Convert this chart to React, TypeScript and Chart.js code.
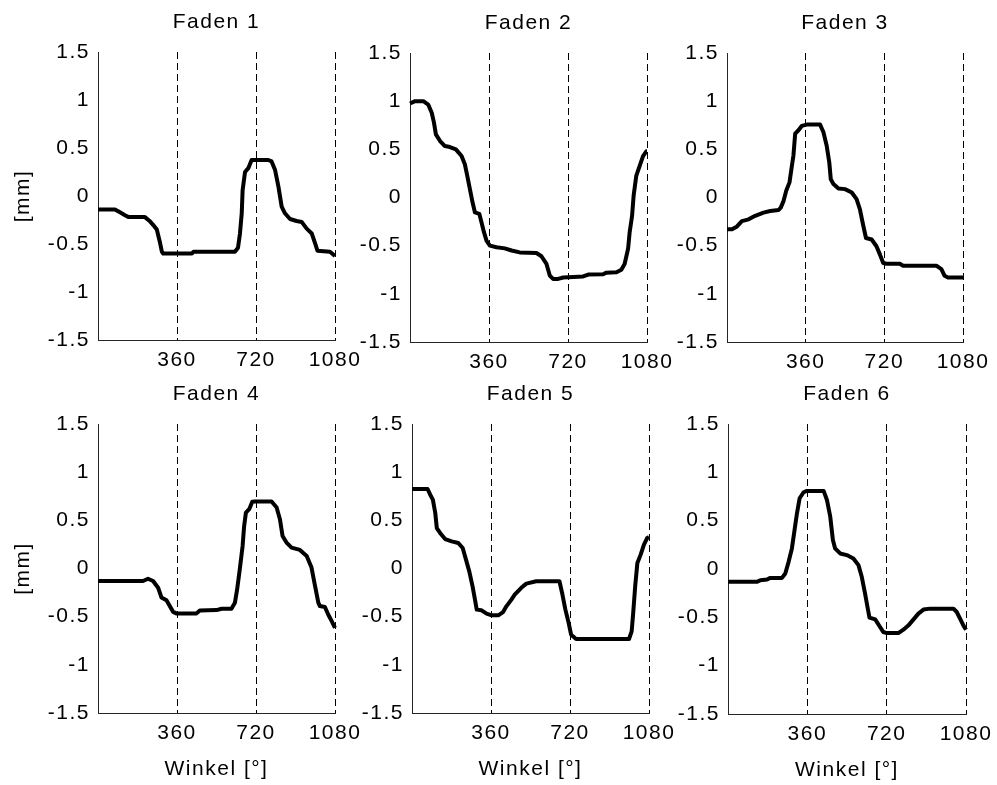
import React, { useEffect, useRef } from 'react';
import { Chart, registerables } from 'chart.js';

Chart.register(...registerables);

// ---------- data ----------
const guideAngles = [360, 720, 1080];
const yTickValues = [-1.5, -1, -0.5, 0, 0.5, 1, 1.5];
const xAxisTitle = 'Winkel [°]';
const yAxisTitle = '[mm]';

const faden1X = [0, 77, 100, 123, 140, 214, 235, 251, 268, 283, 291, 297, 428, 435, 624, 638, 647, 655, 659, 670, 685, 700, 776, 791, 807, 822, 837, 852, 875, 905, 928, 951, 974, 989, 1000, 1057, 1080];
const faden1Y = [-0.14, -0.14, -0.17, -0.2, -0.22, -0.22, -0.26, -0.3, -0.35, -0.49, -0.58, -0.6, -0.6, -0.58, -0.58, -0.54, -0.39, -0.18, 0.06, 0.25, 0.29, 0.375, 0.375, 0.36, 0.27, 0.1, -0.11, -0.18, -0.24, -0.26, -0.27, -0.34, -0.39, -0.49, -0.57, -0.58, -0.625];

const faden2X = [0, 23, 61, 83, 99, 109, 118, 137, 159, 182, 209, 235, 250, 261, 273, 285, 296, 316, 326, 337, 349, 364, 394, 432, 463, 500, 576, 599, 622, 637, 652, 675, 698, 789, 812, 880, 895, 941, 963, 978, 994, 1001, 1012, 1019, 1031, 1047, 1062, 1077, 1080];
const faden2Y = [0.976, 1.0, 1.0, 0.965, 0.88, 0.78, 0.655, 0.586, 0.534, 0.524, 0.5, 0.43, 0.345, 0.224, 0.086, -0.05, -0.155, -0.17, -0.26, -0.36, -0.45, -0.5, -0.517, -0.528, -0.55, -0.57, -0.576, -0.61, -0.69, -0.81, -0.845, -0.845, -0.83, -0.82, -0.8, -0.797, -0.78, -0.776, -0.75, -0.69, -0.53, -0.36, -0.19, 0.017, 0.224, 0.33, 0.43, 0.48, 0.48];

const faden3X = [0, 23, 46, 68, 99, 129, 167, 198, 236, 246, 259, 271, 286, 297, 304, 312, 327, 342, 365, 426, 441, 456, 468, 475, 487, 510, 540, 571, 593, 608, 624, 636, 662, 684, 700, 715, 730, 791, 806, 958, 981, 996, 1011, 1080];
const faden3Y = [-0.33, -0.33, -0.3, -0.245, -0.227, -0.19, -0.157, -0.14, -0.13, -0.105, -0.035, 0.07, 0.157, 0.33, 0.436, 0.663, 0.698, 0.743, 0.757, 0.757, 0.68, 0.54, 0.366, 0.19, 0.14, 0.094, 0.087, 0.052, -0.017, -0.12, -0.296, -0.42, -0.436, -0.506, -0.593, -0.68, -0.687, -0.687, -0.708, -0.708, -0.743, -0.813, -0.83, -0.83];

const faden4X = [0, 205, 228, 251, 274, 289, 312, 327, 342, 357, 449, 464, 540, 563, 608, 624, 634, 646, 659, 666, 674, 689, 703, 715, 791, 814, 829, 841, 859, 882, 920, 951, 973, 989, 1004, 1011, 1034, 1049, 1065, 1080];
const faden4Y = [-0.13, -0.13, -0.106, -0.13, -0.2, -0.3, -0.33, -0.39, -0.45, -0.466, -0.466, -0.435, -0.432, -0.418, -0.418, -0.355, -0.217, -0.01, 0.234, 0.442, 0.58, 0.616, 0.692, 0.695, 0.695, 0.633, 0.512, 0.338, 0.269, 0.217, 0.193, 0.13, 0.01, -0.18, -0.355, -0.39, -0.4, -0.477, -0.546, -0.616];

const faden5X = [0, 71, 83, 95, 106, 113, 128, 151, 181, 211, 231, 246, 261, 276, 287, 295, 317, 340, 363, 393, 415, 430, 453, 468, 498, 521, 566, 672, 684, 699, 714, 725, 748, 989, 1001, 1008, 1017, 1027, 1042, 1057, 1072, 1080];
const faden5Y = [0.825, 0.825, 0.766, 0.715, 0.576, 0.42, 0.369, 0.306, 0.282, 0.265, 0.213, 0.092, -0.03, -0.185, -0.323, -0.427, -0.434, -0.469, -0.486, -0.486, -0.452, -0.393, -0.323, -0.272, -0.2, -0.157, -0.133, -0.133, -0.254, -0.427, -0.566, -0.687, -0.732, -0.732, -0.652, -0.462, -0.185, 0.057, 0.144, 0.247, 0.317, 0.327];

const faden6X = [0, 131, 147, 177, 192, 245, 260, 275, 290, 302, 313, 325, 343, 358, 434, 449, 464, 476, 486, 509, 539, 569, 592, 607, 622, 633, 642, 668, 690, 705, 721, 773, 796, 819, 841, 864, 887, 917, 1023, 1038, 1053, 1068, 1080];
const faden6Y = [-0.133, -0.133, -0.116, -0.109, -0.092, -0.092, -0.047, 0.074, 0.213, 0.403, 0.576, 0.732, 0.794, 0.808, 0.808, 0.714, 0.541, 0.299, 0.213, 0.161, 0.144, 0.109, 0.04, -0.081, -0.254, -0.393, -0.503, -0.521, -0.6, -0.652, -0.663, -0.663, -0.628, -0.583, -0.524, -0.462, -0.42, -0.41, -0.41, -0.445, -0.513, -0.583, -0.628];

// ---------- layout (plot-area boxes in page pixels) ----------
const panels = [
  { title: 'Faden 1', xs: faden1X, ys: faden1Y, L: 98, T: 52, R: 335, B: 340, yTitle: true, xTitle: false },
  { title: 'Faden 2', xs: faden2X, ys: faden2Y, L: 410, T: 53, R: 647, B: 342, yTitle: false, xTitle: false },
  { title: 'Faden 3', xs: faden3X, ys: faden3Y, L: 727, T: 53, R: 963, B: 342, yTitle: false, xTitle: false },
  { title: 'Faden 4', xs: faden4X, ys: faden4Y, L: 98, T: 424, R: 335, B: 713, yTitle: true, xTitle: true },
  { title: 'Faden 5', xs: faden5X, ys: faden5Y, L: 412, T: 424, R: 649, B: 713, yTitle: false, xTitle: true },
  { title: 'Faden 6', xs: faden6X, ys: faden6Y, L: 728, T: 424, R: 966, B: 714, yTitle: false, xTitle: true },
];

const FONT = '"Liberation Sans", Arial, Helvetica, sans-serif';
const FSIZE = 21;
const Y_W = 98;
const TITLE_H = 52;
const RIGHT_PAD = 40;

const spacingPlugin = {
  id: 'letterSpacing',
  beforeUpdate(chart: any) {
    (chart.ctx as any).letterSpacing = '1.5px';
  },
  beforeDraw(chart: any) {
    (chart.ctx as any).letterSpacing = '1.5px';
  },
};

function Panel({ p }: { p: any }) {
  const ref = useRef<HTMLCanvasElement>(null);
  const xH = p.xTitle ? 72 : 40;
  const w = p.R - p.L + Y_W + RIGHT_PAD;
  const h = p.B - p.T + TITLE_H + xH;

  useEffect(() => {
    if (!ref.current) return;
    const lineData = p.xs.map((x: number, i: number) => ({ x, y: p.ys[i] }));
    const yMin = yTickValues[0];
    const yMax = yTickValues[yTickValues.length - 1];
    const font = { family: FONT, size: FSIZE, lineHeight: '24px' };
    const chart = new Chart(ref.current, {
      type: 'line',
      data: {
        datasets: [
          {
            data: lineData,
            borderColor: '#000',
            borderWidth: 4,
            pointRadius: 0,
            tension: 0,
            clip: false,
            borderJoinStyle: 'round',
          } as any,
        ],
      },
      options: {
        responsive: false,
        animation: false,
        devicePixelRatio: 1,
        layout: { padding: { left: 0, right: RIGHT_PAD, top: 0, bottom: 0 } },
        font,
        plugins: {
          legend: { display: false },
          tooltip: { enabled: false },
          title: {
            display: true,
            text: p.title,
            fullSize: false,
            color: '#000',
            font: { ...font, weight: 'normal' },
            padding: { top: 10, bottom: 18 },
          },
        },
        scales: {
          x: {
            type: 'linear',
            min: 0,
            max: 1080,
            afterBuildTicks: (s: any) => {
              s.ticks = guideAngles.map((v) => ({ value: v }));
            },
            afterFit: (s: any) => {
              s.height = xH;
            },
            grid: { display: true, drawTicks: false, drawOnChartArea: true, color: '#000', lineWidth: 1 },
            border: { display: true, color: '#262626', width: 1, dash: [7, 4] },
            ticks: {
              padding: 8,
              maxRotation: 0,
              autoSkip: false,
              color: '#000',
              font,
              callback: (v: any) => String(v),
            },
            title: {
              display: p.xTitle,
              text: xAxisTitle,
              color: '#000',
              font,
              padding: { top: 0, bottom: 4 },
            },
          },
          y: {
            type: 'linear',
            min: yMin,
            max: yMax,
            afterBuildTicks: (s: any) => {
              s.ticks = yTickValues.map((v) => ({ value: v }));
            },
            afterFit: (s: any) => {
              s.width = Y_W;
            },
            grid: { display: false, drawTicks: false },
            border: { display: true, color: '#262626', width: 1 },
            ticks: {
              padding: 8,
              color: '#000',
              font,
              callback: (v: any) => String(v),
            },
            title: {
              display: p.yTitle,
              text: yAxisTitle,
              color: '#000',
              font,
              padding: { top: 11, bottom: 0 },
            },
          },
        },
      } as any,
      plugins: [spacingPlugin as any],
    });
    return () => chart.destroy();
  }, []);

  return (
    <canvas
      ref={ref}
      width={w}
      height={h}
      style={{ position: 'absolute', left: p.L - Y_W, top: p.T - TITLE_H, width: w, height: h }}
    />
  );
}

export default function App() {
  return (
    <div style={{ position: 'absolute', left: 0, top: 0, width: 997, height: 785, background: '#fff', overflow: 'hidden' }}>
      {panels.map((p) => (
        <Panel key={p.title} p={p} />
      ))}
    </div>
  );
}
